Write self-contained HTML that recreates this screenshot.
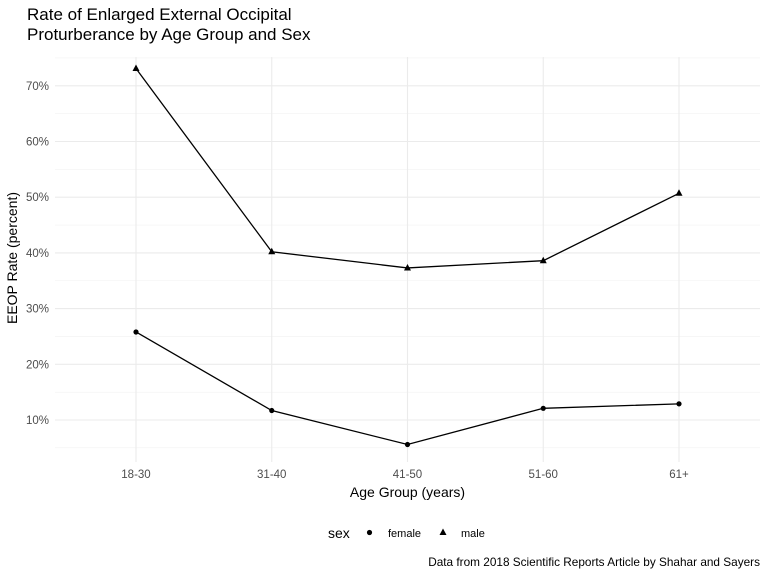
<!DOCTYPE html>
<html><head><meta charset="utf-8"><style>
body{margin:0;background:#fff;font-family:"Liberation Sans",Arial,sans-serif;}
svg text{font-family:"Liberation Sans",Arial,sans-serif;}
</style></head><body>
<svg id="chart" width="768" height="576" viewBox="0 0 768 576" xmlns="http://www.w3.org/2000/svg">
<text x="27" y="20" font-size="17" fill="#000">Rate of Enlarged External Occipital</text>
<text x="27" y="40" font-size="17" fill="#000">Proturberance by Age Group and Sex</text>
<g id="grid"></g>
<g id="series"></g>
<g id="axes"></g>
<text x="407.5" y="497" font-size="14" text-anchor="middle" fill="#000">Age Group (years)</text>
<text transform="translate(17,258) rotate(-90)" font-size="14" text-anchor="middle" fill="#000">EEOP Rate (percent)</text>
<g>
<text x="328" y="538" font-size="14" fill="#000">sex</text>
<circle cx="369.5" cy="532.5" r="2.6" fill="#000"/>
<text x="388" y="537" font-size="11" fill="#000">female</text>
<polygon points="443,528.5 446.5,535 439.5,535" fill="#000"/>
<text x="461" y="537" font-size="11" fill="#000">male</text>
</g>
<text x="760" y="566" font-size="11.8" text-anchor="end" fill="#000">Data from 2018 Scientific Reports Article by Shahar and Sayers</text>
</svg>
<script>
const categories=["18-30","31-40","41-50","51-60","61+"];
const femaleValues=[25.8,11.7,5.6,12.1,12.9];
const maleValues=[73.1,40.2,37.3,38.6,50.7];
const yTicks=[10,20,30,40,50,60,70];
const yTickLabels=["10%","20%","30%","40%","50%","60%","70%"];
const NS="http://www.w3.org/2000/svg";
const L=55,R=760,T=57,B=462;
function x(i){return 136+i*135.75;}
function y(v){return 420-(v-10)*5.57;}
function mk(tag,attrs,parent){const e=document.createElementNS(NS,tag);for(const k in attrs)e.setAttribute(k,attrs[k]);parent.appendChild(e);return e;}
const grid=document.getElementById('grid'),series=document.getElementById('series'),axes=document.getElementById('axes');
for(let v=5;v<=75;v+=10){const l=mk('line',{x1:L,x2:R,y1:y(v),y2:y(v),stroke:'#f2f2f2','stroke-width':0.6},grid);

}
yTicks.forEach((v,i)=>{const l=mk('line',{x1:L,x2:R,y1:y(v),y2:y(v),stroke:'#ebebeb','stroke-width':1.1},grid);


const t=mk('text',{x:49,y:y(v)+4,'font-size':11.5,'text-anchor':'end',fill:'#4d4d4d'},axes);t.textContent=yTickLabels[i];

});
categories.forEach((c,i)=>{const l=mk('line',{x1:x(i),x2:x(i),y1:T,y2:B,stroke:'#ebebeb','stroke-width':1.1},grid);


const t=mk('text',{x:x(i),y:478,'font-size':11.5,'text-anchor':'middle',fill:'#4d4d4d'},axes);t.textContent=c;

});
function drawLine(vals,name){const p=mk('polyline',{points:vals.map((v,i)=>x(i)+','+y(v)).join(' '),fill:'none',stroke:'#000','stroke-width':1.3},series);

}
drawLine(femaleValues,'female');drawLine(maleValues,'male');
femaleValues.forEach((v,i)=>{const c=mk('circle',{cx:x(i),cy:y(v),r:2.6,fill:'#000'},series);

});
maleValues.forEach((v,i)=>{const X=x(i),Y=y(v);const p=mk('polygon',{points:`${X},${Y-4} ${X+3.5},${Y+2.5} ${X-3.5},${Y+2.5}`,fill:'#000'},series);

});
</script>
</body></html>
